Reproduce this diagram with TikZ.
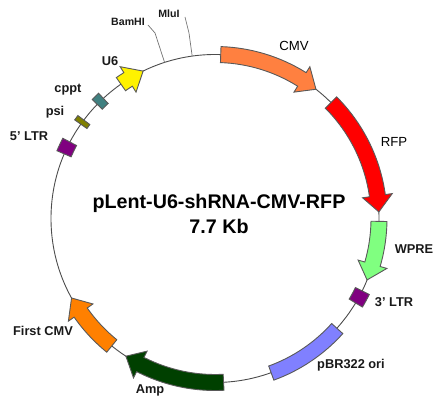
\documentclass[tikz,border=0pt]{standalone}
\usepackage{fontspec}
\setmainfont{Liberation Sans}
\tikzset{
  part/.style={draw=black!65,line width=0.9pt,line join=miter},
  lbl/.style={inner sep=0pt,font=\fontsize{12.8}{14}\selectfont\bfseries,text=black!90},
  smalllbl/.style={inner sep=0pt,font=\fontsize{10.6}{12}\selectfont\bfseries,text=black!90},
  thinlbl/.style={inner sep=0pt,font=\fontsize{13.2}{15}\selectfont,text=black},
  titlelbl/.style={inner sep=0pt,font=\fontsize{19.7}{22}\selectfont\bfseries},
  leader/.style={draw=black!55,line width=0.7pt},
}
\definecolor{cCMV}{HTML}{FF8040}
\definecolor{cWPRE}{HTML}{80FF80}
\definecolor{cLTR}{HTML}{800080}
\definecolor{cORI}{HTML}{8080FF}
\definecolor{cAMP}{HTML}{004000}
\definecolor{cFCMV}{HTML}{FF8000}
\definecolor{cCPPT}{HTML}{408080}
\definecolor{cPSI}{HTML}{808000}
% start angle, head base angle, tip angle, colour
\newcommand{\arcarrow}[4]{%
  \draw[part,fill=#4] (#1:172) arc[start angle=#1,end angle=#2,radius=172pt]
    -- (#2:179) -- (#3:164) -- (#2:149) -- (#2:156)
    arc[start angle=#2,end angle=#1,radius=156pt] -- cycle;}
% start angle, end angle, inner radius, outer radius, colour
\newcommand{\arcbox}[5]{%
  \draw[part,fill=#5] (#1:#4) arc[start angle=#1,end angle=#2,radius=#4pt]
    -- (#2:#3) arc[start angle=#2,end angle=#1,radius=#3pt] -- cycle;}
\begin{document}
\begin{tikzpicture}[x=1pt,y=1pt]
\useasboundingbox (0,0) rectangle (442,407);
\begin{scope}[shift={(215,188.5)}]
  \draw[draw=black!70,line width=0.9pt] (0,0) circle[radius=164pt];
  \coordinate (bamSite) at (107.9:164);
  \coordinate (mluSite) at (98:164);
  \arcarrow{88}{58}{52}{cCMV}
  \arcarrow{45}{8}{2.3}{red}
  \arcarrow{-1}{-16.2}{-22}{cWPRE}
  \arcbox{-26.2}{-31}{156.5}{172}{cLTR}
  \arcbox{-42}{-70}{157}{172}{cORI}
  \arcarrow{-87}{-117.1}{-122.9}{cAMP}
  \arcarrow{-129}{-145}{-151}{cFCMV}
  \arcbox{156.8}{152.2}{156.5}{172}{cLTR}
  \arcbox{144.9}{143.1}{156.5}{171.5}{cPSI}
  \arcbox{135.9}{132.9}{157}{171}{cCPPT}
  \arcarrow{125}{122}{116}{yellow}
\end{scope}
\coordinate (bamBend) at (155,{407-33});
\coordinate (bamEnd) at (148,{407-25});
\coordinate (mluBend) at (189,{407-33});
\coordinate (mluEnd) at (185,{407-17});
\draw[leader] (bamSite) -- (bamBend) -- (bamEnd);
\draw[leader] (mluSite) -- (mluBend) -- (mluEnd);
\node[titlelbl] (title) at (219,{407-203}) {pLent-U6-shRNA-CMV-RFP};
\node[titlelbl] (size) at (219,{407-226}) {7.7 Kb};
\node[thinlbl] (lCMV) at (294,{407-46}) {CMV};
\node[thinlbl] (lRFP) at (394,{407-142}) {RFP};
\node[lbl] (lWPRE) at (414,{407-249}) {WPRE};
\node[lbl] (l3LTR) at (394,{407-302}) {3' LTR};
\node[lbl] (lORI) at (351,{407-365}) {pBR322 ori};
\node[lbl] (lAMP) at (150,{407-390}) {Amp};
\node[lbl] (lFCMV) at (43,{407-331}) {First CMV};
\node[lbl] (l5LTR) at (29,{407-136}) {5' LTR};
\node[lbl] (lPSI) at (55,{407-112}) {psi};
\node[lbl] (lCPPT) at (68,{407-90}) {cppt};
\node[lbl] (lU6) at (110,{407-61}) {U6};
\node[smalllbl] (lBAM) at (128,{407-22}) {BamHI};
\node[smalllbl] (lMLU) at (169,{407-14}) {MluI};
\end{tikzpicture}
\end{document}
